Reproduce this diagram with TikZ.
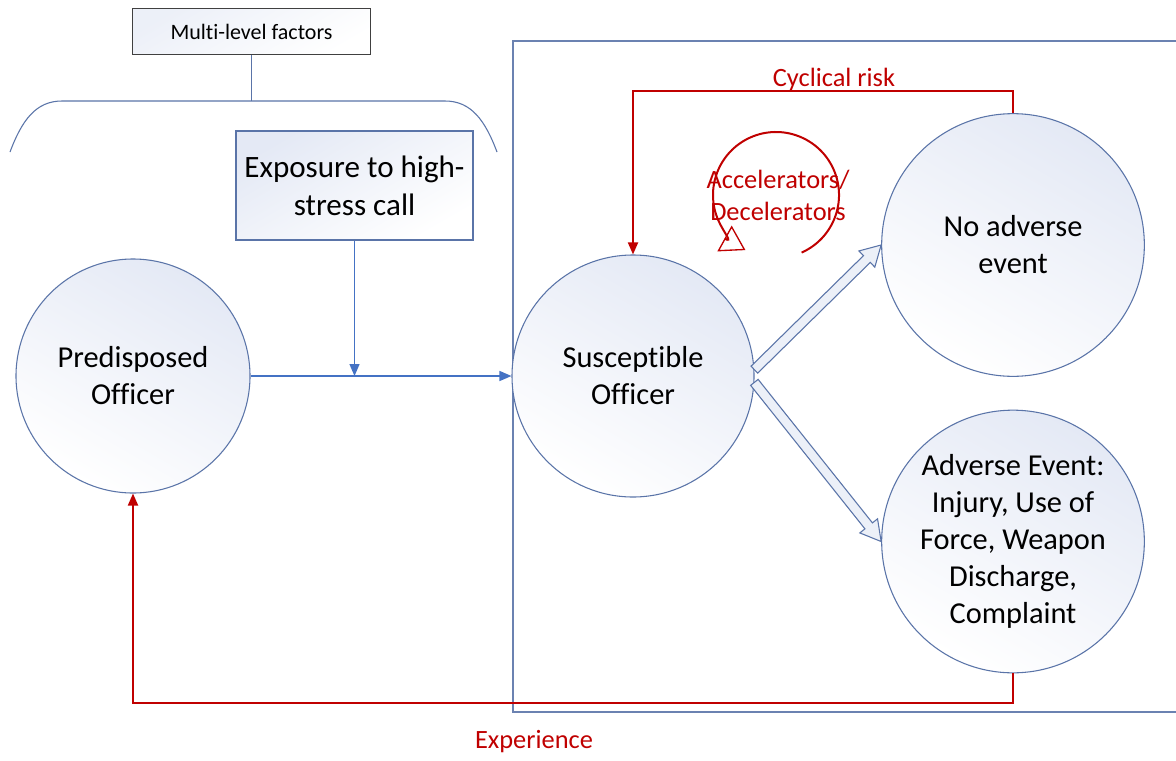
\documentclass[tikz,border=0pt]{standalone}
\usepackage{fontspec}
\setmainfont{Carlito}[Ligatures={NoCommon,NoRare}]
\usetikzlibrary{arrows.meta,calc}
\definecolor{cborder}{HTML}{5A74A8}
\definecolor{cline}{HTML}{4472C4}
\definecolor{cred}{HTML}{C00000}
\definecolor{cfill}{HTML}{E4E9F5}
\definecolor{cgrey}{HTML}{404040}
\newcommand\blkarrow[3]{%
  \path (#1) coordinate (#3s) (#2) coordinate (#3e);
  \path ($(#3e)!15pt!(#3s)$) coordinate (#3h);
  \draw[blockarr] ($(#3s)!3.6pt!90:(#3e)$) -- ($(#3h)!3.6pt!90:(#3e)$)
    -- ($(#3h)!8.5pt!90:(#3e)$) -- (#3e) -- ($(#3h)!8.5pt!-90:(#3e)$)
    -- ($(#3h)!3.6pt!-90:(#3e)$) -- ($(#3s)!3.6pt!-90:(#3e)$) -- cycle;}
\tikzset{
  circnode/.style={circle, draw=cborder, line width=0.8pt, top color=cfill, bottom color=white, shading angle=-30, inner sep=0pt, align=center, font=\fontsize{22.8}{27.75}\selectfont},
  boxnode/.style={rectangle, draw=cborder, line width=0.8pt, top color=cfill, bottom color=white, shading angle=30, inner sep=0pt, align=center},
  blueline/.style={draw=cline, line width=1pt},
  blueArr/.style={blueline, -{Triangle[length=9pt,width=7.5pt]}},
  redArr/.style={draw=cred, line width=1.4pt, -{Triangle[length=9pt,width=7.5pt]}},
  redtxt/.style={text=cred, font=\fontsize{19.8}{22}\selectfont},
  blockarr/.style={draw=cborder, line width=0.8pt, fill=cfill!70, line join=miter},
}
\begin{document}
\begin{tikzpicture}[x=0.75pt,y=-0.75pt]
\useasboundingbox[fill=white] (0,0) rectangle (1176,760);
% outer frame
\draw[draw=cborder!90, line width=0.8pt] (1180,41) -- (513,41) -- (513,712) -- (1180,712);
% multi-level factors
\node[rectangle, draw=cgrey, line width=0.8pt, top color=cfill!70, bottom color=white, shading angle=30, minimum width=179pt, minimum height=35pt, font=\fontsize{16.5}{19}\selectfont] (multi) at (251.5,31.5) {Multi-level factors};
\coordinate (brtop) at (251.5,101);
\draw[draw=cborder, line width=0.8pt] (multi.south) -- (brtop);
\draw[draw=cborder, line width=0.8pt] (10,152) .. controls (22,120) and (36,101) .. (62,101) -- (445,101) .. controls (471,101) and (485,120) .. (497,152);
% exposure
\node[boxnode, minimum width=177.75pt, minimum height=81.75pt, font=\fontsize{23.3}{28.5}\selectfont] (expo) at (354.5,185.5) {Exposure to high-\\stress call};
% circles
\node[circnode, minimum size=175.5pt] (pred) at (133,376) {Predisposed\\Officer};
\node[circnode, minimum size=181.5pt] (sus) at (633,376) {Susceptible\\Officer};
\node[circnode, minimum size=197pt] (noadv) at (1013,245) {No adverse\\event};
\node[circnode, minimum size=197pt] (adv) at (1013,541.5) {Adverse Event:\\Injury, Use of\\Force, Weapon\\Discharge,\\Complaint};
% blue connectors
\coordinate (join) at (expo.south |- pred.east);
\draw[blueArr] (pred.east) -- (sus.west);
\draw[blueArr] (expo.south) -- (join);
% block arrows
\blkarrow{sus.3}{noadv.west}{ua}
\blkarrow{sus.-3}{adv.west}{da}
% red loops
\draw[redArr] (noadv.north) -- ++(0,-22) -| (sus.north);
\node[redtxt] (cyc) at (834,79) {Cyclical risk};
\draw[redArr] (adv.south) -- ++(0,29.5) -| (pred.south);
\node[redtxt] (expe) at (534,742) {Experience};
% accelerators
\coordinate (acc) at (776,195);
\draw[draw=cred, line width=1.5pt, -{Triangle[open,length=18pt,width=22pt,line width=1pt]}] (acc) ++(66:63) arc[start angle=66, end angle=-241, radius=63];
\node[text=cred, align=center, font=\fontsize{19.8}{24}\selectfont] (acctxt) at (778,195) {Accelerators/\\Decelerators};
\end{tikzpicture}
\end{document}
